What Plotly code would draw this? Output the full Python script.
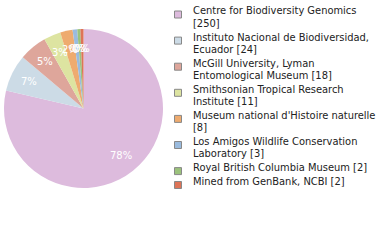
import math
import plotly.graph_objects as go

labels = ["Centre for Biodiversity Genomics [250]",
          "Instituto Nacional de Biodiversidad, Ecuador [24]",
          "McGill University, Lyman Entomological Museum [18]",
          "Smithsonian Tropical Research Institute [11]",
          "Museum national d'Histoire naturelle [8]",
          "Los Amigos Wildlife Conservation Laboratory [3]",
          "Royal British Columbia Museum [2]",
          "Mined from GenBank, NCBI [2]"]
legend_lines = [["Centre for Biodiversity Genomics", "[250]"],
                ["Instituto Nacional de Biodiversidad,", "Ecuador [24]"],
                ["McGill University, Lyman", "Entomological Museum [18]"],
                ["Smithsonian Tropical Research", "Institute [11]"],
                ["Museum national d'Histoire naturelle", "[8]"],
                ["Los Amigos Wildlife Conservation", "Laboratory [3]"],
                ["Royal British Columbia Museum [2]"],
                ["Mined from GenBank, NCBI [2]"]]
values = [250, 24, 18, 11, 8, 3, 2, 2]
colors = ["#ddbbdd", "#ccdbe6", "#dea69b", "#dde4a1", "#eeab6f", "#9abbde", "#9bc27c", "#de7457"]

total = sum(values)
pct_text = [f"{int(v * 100 / total)}%" for v in values]

W, H = 380, 240
# pie domain in pixels
PX0, PX1, PY0, PY1 = 4, 163, 29, 188

fig = go.Figure()
fig.add_trace(go.Pie(
    labels=labels, values=values, sort=False, direction="clockwise", rotation=0,
    marker=dict(colors=colors, line=dict(width=0)),
    textinfo="none",
    domain=dict(x=[PX0 / W, PX1 / W], y=[1 - PY1 / H, 1 - PY0 / H]),
    showlegend=False, hoverinfo="label+value",
))

anns, shapes = [], []
# percentage labels placed along each slice's mid-angle
cx, cy = (PX0 + PX1) / 2, (PY0 + PY1) / 2
r = min(PX1 - PX0, PY1 - PY0) / 2
cum = 0
for v, t in zip(values, pct_text):
    mid = (cum + v / 2) / total * 2 * math.pi
    cum += v
    lx = cx + 0.76 * r * math.sin(mid)
    ly = cy - 0.76 * r * math.cos(mid)
    anns.append(dict(xref="paper", yref="paper", x=lx / W, y=1 - ly / H,
                     xanchor="center", yanchor="middle", showarrow=False, text=t,
                     font=dict(family="DejaVu Sans", size=10, color="white")))

FONT = "DejaVu Sans Condensed, DejaVu Sans"
PITCH, GAP = 12.2, 1.7
yc = 11.0
for lines, c in zip(legend_lines, colors):
    sq = yc + 3.5
    shapes.append(dict(type="rect", xref="paper", yref="paper",
                       x0=174.5 / W, x1=181.5 / W, y0=1 - (sq - 3.5) / H, y1=1 - (sq + 3.5) / H,
                       fillcolor=c, line=dict(color="#888888", width=1)))
    for ln in lines:
        anns.append(dict(xref="paper", yref="paper", x=191 / W, y=1 - yc / H,
                         xanchor="left", yanchor="middle", showarrow=False, align="left",
                         text=ln, font=dict(family=FONT, size=11, color="#222222")))
        yc += PITCH
    yc += GAP

fig.update_layout(width=W, height=H, margin=dict(l=0, r=0, t=0, b=0),
                  paper_bgcolor="white", plot_bgcolor="white",
                  shapes=shapes, annotations=anns)
fig.write_html("out.html")
